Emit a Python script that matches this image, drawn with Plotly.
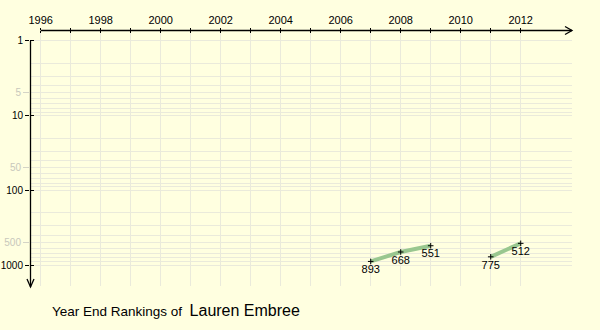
import plotly.graph_objects as go

# ---- data ----
years = [2007, 2008, 2009, 2010, 2011, 2012]
ranks = [893, 668, 551, None, 775, 512]
rank_labels = ["893", "668", "551", "", "775", "512"]
x_tick_years = list(range(1996, 2013))
x_tick_text = [str(y) if y % 2 == 0 else "" for y in x_tick_years]
y_major = [1, 10, 100, 1000]
y_half = [5, 50, 500]
y_grid_minor = [m * d for d in (1, 10, 100) for m in range(2, 10)]
player = "Lauren Embree"

# ---- geometry ----
W, H = 600, 330
L, R, T, B = 30, 28, 31, 44
PW, PH = W - L - R, H - T - B
X_RANGE = [1995.643, 1995.643 + PW / 30.0]
Y_TOP, Y_BOT = -0.1297, -0.1297 + PH / 74.8
BG = "#FFFFE0"
GRID = "#eaeadb"


def px(x):
    return (x - L) / PW


def py(y):
    return (H - B - y) / PH


fig = go.Figure()
fig.add_trace(go.Scatter(
    x=years, y=ranks, mode="lines+markers+text",
    text=rank_labels, textposition="bottom center",
    textfont=dict(family="Liberation Sans, Arial", size=11, color="black"),
    line=dict(color="#99c78f", width=4),
    marker=dict(symbol="cross-thin", size=4, color="black",
                line=dict(color="black", width=1)),
    connectgaps=False, hoverinfo="skip", cliponaxis=False,
))
# invisible helper traces for overlay axes
for xa, ya in (("x2", "y2"), ("x2", "y3")):
    fig.add_trace(go.Scatter(x=years, y=ranks, xaxis=xa, yaxis=ya,
                             mode="lines", opacity=0, hoverinfo="skip",
                             showlegend=False))

yr = [Y_BOT, Y_TOP]
fig.update_layout(
    width=W, height=H, margin=dict(l=L, r=R, t=T, b=B, autoexpand=False),
    paper_bgcolor=BG, plot_bgcolor=BG, showlegend=False,
    xaxis=dict(range=X_RANGE, side="top", tickmode="array", automargin=False,
               tickvals=x_tick_years, ticktext=x_tick_text,
               ticks="outside", ticklen=2, tickwidth=1, tickcolor="black",
               tickfont=dict(family="Liberation Sans, Arial", size=11, color="black"),
               showgrid=True, gridcolor=GRID, gridwidth=1,
               zeroline=False, showline=False, fixedrange=True),
    xaxis2=dict(range=X_RANGE, overlaying="x", anchor="y", side="top", automargin=False,
                tickmode="array", tickvals=x_tick_years, ticktext=[""] * len(x_tick_years),
                ticks="inside", ticklen=2, tickwidth=1, tickcolor="black",
                showgrid=False, zeroline=False, showline=False),
    yaxis=dict(type="log", range=yr, tickmode="array", tickvals=y_major, automargin=False,
               ticktext=[str(v) for v in y_major],
               ticks="outside", ticklen=4, tickwidth=1, tickcolor="black",
               tickfont=dict(family="Liberation Sans, Arial", size=10, color="black"),
               showgrid=True, gridcolor=GRID, gridwidth=1,
               minor=dict(tickmode="array", tickvals=y_grid_minor, showgrid=True,
                          gridcolor=GRID, gridwidth=1, ticks=""),
               zeroline=False, showline=False, fixedrange=True),
    yaxis2=dict(type="log", range=yr, overlaying="y", anchor="x", side="left", automargin=False,
                tickmode="array", tickvals=y_half, ticktext=[str(v) for v in y_half],
                ticks="outside", ticklen=6, tickwidth=1, tickcolor="#d4d4c6",
                tickfont=dict(family="Liberation Sans, Arial", size=10, color="#c8c8bc"),
                showgrid=False, zeroline=False, showline=False),
    yaxis3=dict(type="log", range=yr, overlaying="y", anchor="x", side="left", automargin=False,
                tickmode="array", tickvals=y_major, ticktext=[""] * len(y_major),
                ticks="inside", ticklen=4, tickwidth=1, tickcolor="black",
                showgrid=False, zeroline=False, showline=False),
)

# axis lines with arrow heads (pixel positions -> paper coords)
ax_y = 30.5
ay_x = 30.5
top_one = 40.7
line = dict(color="black", width=1.3)
fig.add_shape(type="line", xref="paper", yref="paper",
              x0=px(40.7), x1=px(572), y0=py(ax_y), y1=py(ax_y), line=line)
fig.add_shape(type="path", xref="paper", yref="paper",
              path=f"M {px(565)} {py(26.5)} L {px(572)} {py(ax_y)} L {px(565)} {py(34.5)}",
              line=line)
fig.add_shape(type="line", xref="paper", yref="paper",
              x0=px(ay_x), x1=px(ay_x), y0=py(top_one), y1=py(287), line=line)
fig.add_shape(type="path", xref="paper", yref="paper",
              path=f"M {px(27)} {py(279)} L {px(ay_x)} {py(287)} L {px(34)} {py(279)}",
              line=line)

fig.add_annotation(
    xref="paper", yref="paper", x=px(50), y=py(310), xanchor="left", yanchor="middle",
    showarrow=False,
    text=f"Year End Rankings of  <span style='font-size:16px'>{player}</span>",
    font=dict(family="Liberation Sans, Arial", size=13.5, color="black"),
)

fig.write_html("out.html")
